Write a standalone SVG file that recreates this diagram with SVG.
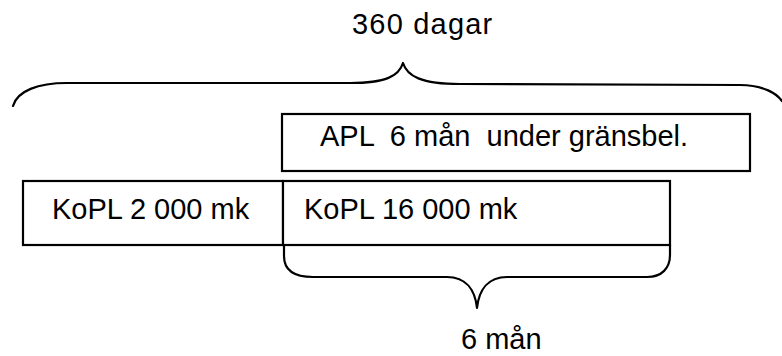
<svg xmlns="http://www.w3.org/2000/svg" width="782" height="356" viewBox="0 0 782 356">
<style>
  .box { fill: #ffffff; stroke: #000000; stroke-width: 2.2; }
  .line { fill: none; stroke: #000000; stroke-width: 2.2; stroke-linecap: round; stroke-linejoin: round; }
  .lbl { font-family: "Liberation Sans", Arial, sans-serif; font-size: 29px; fill: #000000; white-space: pre; }
</style>
<rect x="0" y="0" width="782" height="356" fill="#ffffff"/>
<g id="apl">
  <rect class="box" x="282" y="114" width="468" height="57"/>
  <text class="lbl" x="320" y="146" xml:space="preserve">APL  6 mån  under gränsbel.</text>
</g>
<g id="kopl-2000">
  <rect class="box" x="23" y="181" width="260" height="64"/>
  <text class="lbl" x="52" y="219">KoPL 2 000 mk</text>
</g>
<g id="kopl-16000">
  <rect class="box" x="283" y="181" width="387" height="64"/>
  <text class="lbl" x="304" y="219">KoPL 16 000 mk</text>
</g>
<g id="connectors">
  <path class="line" d="M 13 106 C 17 91, 38 83, 67 83 L 350 83 C 386 83, 399 76, 403 63 C 407 76, 421 84, 460 84 L 740 85 C 764 85, 777 94, 782 101"/>
  <path class="line" d="M 284 245 L 284 256 C 284 270, 293 277, 313 277 L 447 277 C 466 277, 475 290, 477 308 C 479 290, 488 277, 507 277 L 647 277 C 662 277, 670 268, 670 255 L 670 245"/>
</g>
<g id="label-360">
  <text class="lbl" x="352" y="34" letter-spacing="1.2">360 dagar</text>
</g>
<g id="label-6man">
  <text class="lbl" x="461" y="349">6 mån</text>
</g>
</svg>
